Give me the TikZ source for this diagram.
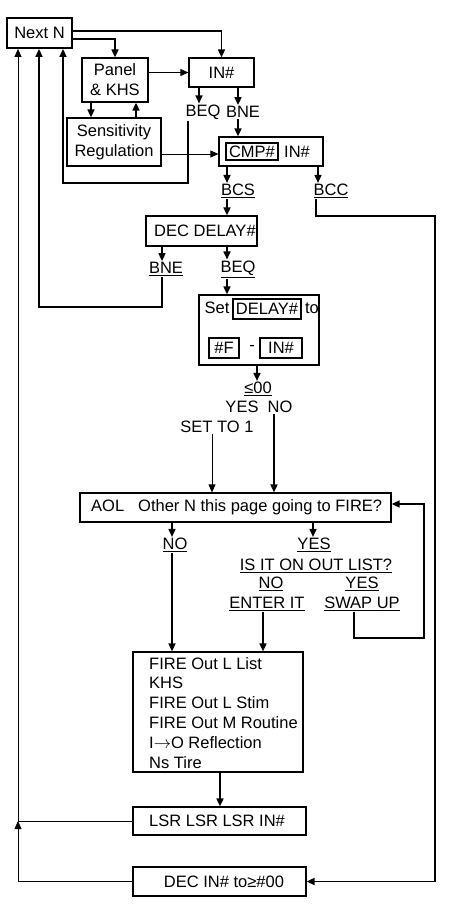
\documentclass[tikz,border=0pt]{standalone}
\usepackage{fontspec}
\setmainfont{Liberation Sans}
\usetikzlibrary{arrows.meta}

\begin{document}
\begin{tikzpicture}[x=1pt, y=-1pt,
	every node/.style={font=\fontsize{16.5}{19.8}\selectfont, inner sep=1pt},
	box/.style={draw, line width=1.2pt, inner sep=0pt},
	inbox/.style={draw, line width=1.6pt, inner sep=0pt},
	pf/.style={-{Triangle[length=8pt,width=7pt]}, line width=1.6pt},
	df/.style={-{Triangle[length=8pt,width=7pt]}, line width=0.8pt}]

	\useasboundingbox (0,0) rectangle (462,923);

	% Kaesten oben
	\node[box, line width=1.8pt, minimum width=65pt, minimum height=30pt] (nextN) at (39.5,33) {Next N};
	\node[box, minimum width=66pt, minimum height=44pt, align=center] (panel) at (115,80) {Panel\\\& KHS};
	\node[box, minimum width=65pt, minimum height=29pt] (inN) at (221.5,72.5) {IN\#};
	\node[box, minimum width=94pt, minimum height=48pt, align=center] (sens) at (114,142) {Sensitivity\\Regulation};
	\node (beq) at (203,112) {BEQ};
	\node (bne) at (243,112) {BNE};
	% Vergleich
	\node[box, minimum width=104pt, minimum height=29pt] (cmp) at (271,151.5) {};
	\node[inbox, minimum width=52pt, minimum height=17pt] (cmpIn) at (252,151.5) {CMP\#};
	\node (cmpTx) at (297,151.5) {IN\#};
	\node (bcs) at (238,191) {\underline{BCS}};
	\node (bcc) at (331,191) {\underline{BCC}};
	% Delay
	\node[box, minimum width=111pt, minimum height=30pt] (decDelay) at (201.5,231) {};
	\node[anchor=west] (decTx) at (153,231) {DEC DELAY\#};
	\node (bne2) at (166,269) {\underline{BNE}};
	\node (beq2) at (238,269) {\underline{BEQ}};
	\node[box, minimum width=120pt, minimum height=70pt] (setBox) at (259,330) {};
	\node (setTx) at (217,308) {Set};
	\node[inbox, minimum width=68pt, minimum height=20pt] (delayIn) at (267,309) {DELAY\#};
	\node (toTx) at (312,308) {to};
	\node[inbox, minimum width=30pt, minimum height=20pt] (fIn) at (224,348) {\#F};
	\node (minusTx) at (252,348) {-};
	\node[inbox, minimum width=42pt, minimum height=20pt] (inIn) at (281,348) {IN\#};
	\node (le00) at (258,389) {\underline{≤00}};
	\node (yes) at (242,407) {YES};
	\node (no) at (280,407) {NO};
	\node (setTo) at (217,427) {SET TO 1};
	% AOL
	\node[box, minimum width=311pt, minimum height=29pt] (aol) at (235.5,507.5) {};
	\node[anchor=west] (aolTx) at (90,507.5) {AOL\hspace{14pt}Other N this page going to FIRE?};
	\node (noA) at (175,545) {\underline{NO}};
	\node (yesA) at (314,545) {\underline{YES}};
	\node (isIt) at (316,566) {\underline{IS IT ON OUT LIST?}};
	\node (noB) at (271,584) {\underline{NO}};
	\node (yesB) at (362,584) {\underline{YES}};
	\node (enter) at (267,604) {\underline{ENTER IT}};
	\node (swap) at (362,604) {\underline{SWAP UP}};
	% FIRE und Ende
	\node[box, minimum width=170pt, minimum height=120pt] (fire) at (218,712) {};
	\node[anchor=north west, align=left] (fireTx) at (148,656) {FIRE Out L List\\KHS\\FIRE Out L Stim\\FIRE Out M Routine\\I$\rightarrow$O Reflection\\Ns Tire};
	\node[box, minimum width=173pt, minimum height=28pt] (lsr) at (219.5,821) {};
	\node[anchor=west] (lsrTx) at (148,821) {LSR LSR LSR IN\#};
	\node[box, minimum width=173pt, minimum height=29pt] (decIn) at (219.5,881.5) {};
	\node (decInTx) at (224,881.5) {DEC IN\# to≥\#00};

	% Next N nach IN# und Panel
	\draw[pf] ([yshift=2pt]nextN.east) -| (inN.north);
	\draw[pf] ([yshift=-6pt]nextN.east) -| (panel.north);
	\draw[df] (panel.east |- inN.west) -- (inN.west);
	%Panel <-> Sensitivity
	\draw[pf] ([xshift=-24pt]panel.south) -- ([xshift=-24pt]panel.south |- sens.north);
	\draw[pf] ([xshift=21pt]panel.south |- sens.north) -- ([xshift=21pt]panel.south);
	\draw[df] ([yshift=-12pt]sens.east) -- ([yshift=-12pt]sens.east -| cmp.west);
	%IN# Verzweigung
	\draw[pf] (inN.south -| 199,0) -- (beq.north -| 199,0);
	\draw[pf] (inN.south -| 238,0) -- (bne.north -| 238,0);
	\draw[pf] (bne.south -| 238,0) -- (cmp.north -| 238,0);
	\draw[pf] (beq.south -| 188,0) |- (63,183) -- (nextN.south -| 63,0);
	%CMP# Verzweigung
	\draw[pf] (cmp.south -| 227,0) -- (bcs.north -| 227,0);
	\draw[pf] (cmp.south -| 318,0) -- (bcc.north -| 318,0);
	\draw[pf] (bcs.south -| 227,0) -- (decDelay.north -| 227,0);
	\draw[pf] (bcc.south -| 316,0) |- (435,216) |- (decIn.east);
	%DEC DELAY# Verzweigung
	\draw[pf] (decDelay.south -| 162,0) -- (bne2.north -| 162,0);
	\draw[pf] (decDelay.south -| 227,0) -- (beq2.north -| 227,0);
	\draw[pf] (bne2.south -| 162,0) |- (39,307) -- (nextN.south -| 39,0);
	\draw[pf] (beq2.south -| 227,0) -- (setBox.north -| 227,0);
	\draw[pf] (setBox.south -| 257,0) -- (le00.north -| 257,0);
	%nach AOL
	\draw[df] (setTo.south -| 212,0) -- (aol.north -| 212,0);
	\draw[pf] (no.south -| 274,0) -- (aol.north -| 274,0);
	%AOL Verzweigung
	\draw[pf] (aol.south -| 172,0) -- (noA.north -| 172,0);
	\draw[pf] (aol.south -| 313,0) -- (yesA.north -| 313,0);
	\draw[pf] (noA.south -| 172,0) -- (fire.north -| 172,0);
	\draw[pf] (enter.south -| 263,0) -- (fire.north -| 263,0);
	\draw[pf] (swap.south -| 354,0) |- (424,638) |- ([yshift=3.5pt]aol.east);
	%FIRE zu LSR, Ruecksprung
	\draw[pf] (fire.south -| 220,0) -- (lsr.north -| 220,0);
	\draw[df] (decIn.west) -| (lsr.west -| 18,0);
	\draw[df] (lsr.west) -| (nextN.south -| 18,0);
\end{tikzpicture}
\end{document}
